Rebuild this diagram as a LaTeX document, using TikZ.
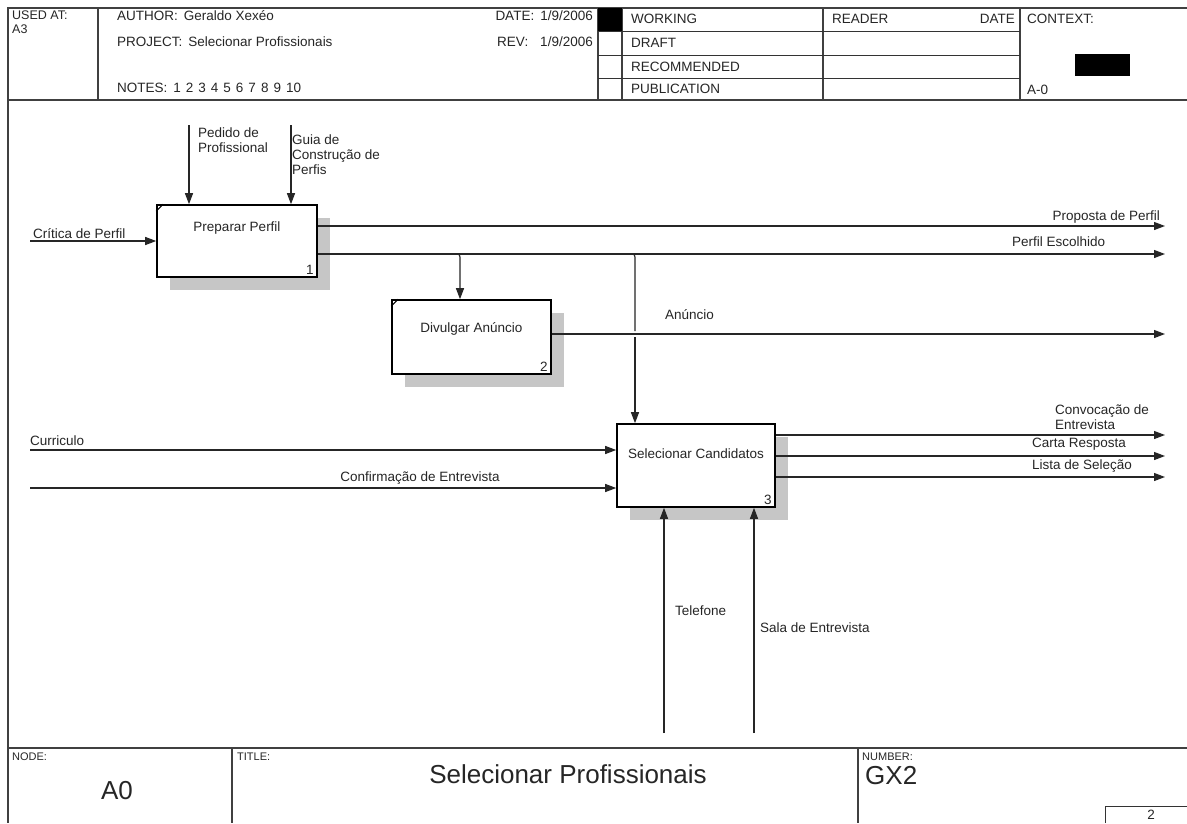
\documentclass[tikz,border=0pt]{standalone}
\usepackage{fontspec}
\setmainfont{Liberation Sans}
\usetikzlibrary{arrows.meta,shadows}
\begin{document}
\begin{tikzpicture}[x=1pt,y=-1pt,
  frame/.style={draw=black!75,line width=1.3pt},
  thin/.style={draw=black!80,line width=1pt},
  txt/.style={font=\fontsize{13.5}{15}\selectfont,inner sep=0pt,text=black!85},
  tiny/.style={font=\fontsize{11}{12}\selectfont,inner sep=0pt,text=black!85},
  big/.style={font=\fontsize{26}{28}\selectfont,inner sep=0pt,text=black!85},
  actbox/.style={draw=black,line width=1.6pt,fill=white,inner sep=0pt,
    drop shadow={shadow xshift=13pt,shadow yshift=-13pt,fill=gray!45,opacity=1}},
  flow/.style={draw=black!85,line width=1.2pt,-{Triangle[length=11pt,width=8pt]}},
  plain/.style={draw=black!85,line width=1.2pt},
  lbl/.style={txt,align=left}]
\useasboundingbox (0,0) rectangle (1187,823);
\fill[white] (0,0) rectangle (1187,823);

% ---------- outer frame and header ----------
\draw[frame] (1187,8) -- (8,8) -- (8,823);
\draw[frame] (8,100) -- (1187,100);
\draw[frame] (98,8) -- (98,100);
\draw[frame] (598,8) -- (598,100);
\draw[frame] (622,8) -- (622,100);
\draw[frame] (823,8) -- (823,100);
\draw[frame] (1020,8) -- (1020,100);
\foreach \yy in {31,55,78} \draw[thin] (598,\yy) -- (1020,\yy);
\fill[black] (598,8) rectangle (622,31);
\fill[black] (1075,54) rectangle (1130,76);

\node[txt,anchor=north west,font=\fontsize{12.5}{12.5}\selectfont] (usedat) at (12,11) {USED AT:};
\node[txt,anchor=north west,font=\fontsize{12.5}{12.5}\selectfont] (usedcode) at (12,24.5) {A3};
\node[txt,anchor=west] (author) at (117,16) {AUTHOR:\hspace{6pt}Geraldo Xexéo};
\node[txt,anchor=west] (project) at (117,42) {PROJECT:\hspace{6pt}Selecionar Profissionais};
\node[txt,anchor=west] (notes) at (117,88) {NOTES:\hspace{6pt}1\hspace{5pt}2\hspace{5pt}3\hspace{5pt}4\hspace{5pt}5\hspace{5pt}6\hspace{5pt}7\hspace{5pt}8\hspace{5pt}9\hspace{5pt}10};
\node[txt,anchor=east] (date) at (593,16) {DATE:\hspace{6pt}1/9/2006};
\node[txt,anchor=east] (rev) at (593,42) {REV:\hspace{12pt}1/9/2006};
\node[txt,anchor=west] (working) at (631,19) {WORKING};
\node[txt,anchor=west] (draft) at (631,43) {DRAFT};
\node[txt,anchor=west] (recommended) at (631,67) {RECOMMENDED};
\node[txt,anchor=west] (publication) at (631,89) {PUBLICATION};
\node[txt,anchor=west] (reader) at (832,19) {READER};
\node[txt,anchor=east] (readerdate) at (1015,19) {DATE};
\node[txt,anchor=west] (context) at (1027,19) {CONTEXT:};
\node[txt,anchor=west] (contextnode) at (1027,90) {A-0};

% ---------- footer ----------
\draw[frame] (8,748) -- (1187,748);
\draw[frame] (232,748) -- (232,823);
\draw[frame] (858,748) -- (858,823);
\draw[thin] (1105,823) -- (1105,806) -- (1187,806);
\node[tiny,anchor=west] (nodelbl) at (12,757) {NODE:};
\node[big] (nodeval) at (117,791) {A0};
\node[tiny,anchor=west] (titlelbl) at (237,757) {TITLE:};
\node[big] (titleval) at (568,774) {Selecionar Profissionais};
\node[tiny,anchor=west] (numberlbl) at (862,757) {NUMBER:};
\node[big,anchor=west] (numberval) at (865,776) {GX2};
\node[txt] (pagenum) at (1151,815) {2};

% ---------- activity boxes ----------
\node[actbox,minimum width=160pt,minimum height=72pt] (p1) at (237,241) {};
\node[actbox,minimum width=159pt,minimum height=74pt] (p2) at (471.5,337) {};
\node[actbox,minimum width=158pt,minimum height=83pt] (p3) at (696,465.5) {};

\node[txt] (p1name) at ([yshift=-24pt]p1.north) {Preparar Perfil};
\node[txt] (p2name) at ([yshift=-30pt]p2.north) {Divulgar Anúncio};
\node[txt] (p3name) at ([yshift=-30pt]p3.north) {Selecionar Candidatos};
\node[txt,anchor=south east] (p1num) at ([xshift=-4pt,yshift=3pt]p1.south east) {1};
\node[txt,anchor=south east] (p2num) at ([xshift=-4pt,yshift=3pt]p2.south east) {2};
\node[txt,anchor=south east] (p3num) at ([xshift=-4pt,yshift=3pt]p3.south east) {3};
\draw[line width=1pt] ([yshift=-7pt]p1.north west) -- ([xshift=7pt]p1.north west);
\draw[line width=1pt] ([yshift=-7pt]p2.north west) -- ([xshift=7pt]p2.north west);

% ---------- free ends of the arrows ----------
\coordinate (critica) at (30,241);
\coordinate (pedido) at (189,125);
\coordinate (guia) at (291,125);
\coordinate (proposta) at (1165,226);
\coordinate (escolhido) at (1165,254);
\coordinate (anuncio) at (1165,334);
\coordinate (curriculo) at (30,450);
\coordinate (confirmacao) at (30,488);
\coordinate (convocacao) at (1165,435);
\coordinate (carta) at (1165,456);
\coordinate (lista) at (1165,477);
\coordinate (telefone) at (664,733);
\coordinate (sala) at (754,733);
\coordinate (branchA) at (460,254);
\coordinate (branchB) at (635,254);

% ---------- Preparar Perfil ----------
\draw[flow] (critica) -- (critica -| p1.west);
\draw[flow] (pedido) -- (pedido |- p1.north);
\draw[flow] (guia) -- (guia |- p1.north);
\draw[flow] (proposta -| p1.east) -- (proposta);
\draw[flow] (escolhido -| p1.east) -- (escolhido);
\node[lbl,anchor=west] (lcritica) at (33,234) {Crítica de Perfil};
\node[lbl,anchor=north west] (lpedido) at (198,128) {Pedido de\\Profissional};
\node[lbl,anchor=north west] (lguia) at (292,135) {Guia de\\Construção de\\Perfis};
\node[lbl,anchor=east] (lproposta) at (1160,217) {Proposta de Perfil};
\node[lbl,anchor=west] (lescolhido) at (1012,242) {Perfil Escolhido};

% branch of Perfil Escolhido into Divulgar Anúncio
\draw[flow] ([xshift=-5pt]branchA) .. controls (branchA) .. ([yshift=-7pt]branchA) -- (branchA |- p2.north);
% branch of Perfil Escolhido into Selecionar Candidatos, bridging Anúncio
\draw[plain] ([xshift=-5pt]branchB) .. controls (branchB) .. ([yshift=-7pt]branchB) -- ([yshift=3pt]branchB |- anuncio);
\draw[flow] ([yshift=-3pt]branchB |- anuncio) -- (branchB |- p3.north);

% ---------- Divulgar Anúncio ----------
\draw[flow] (anuncio -| p2.east) -- (anuncio);
\node[lbl,anchor=west] (lanuncio) at (665,315) {Anúncio};

% ---------- Selecionar Candidatos ----------
\draw[flow] (curriculo) -- (curriculo -| p3.west);
\draw[flow] (confirmacao) -- (confirmacao -| p3.west);
\draw[flow] (convocacao -| p3.east) -- (convocacao);
\draw[flow] (carta -| p3.east) -- (carta);
\draw[flow] (lista -| p3.east) -- (lista);
\draw[flow] (telefone) -- (telefone |- p3.south);
\draw[flow] (sala) -- (sala |- p3.south);
\node[lbl,anchor=west] (lcurriculo) at (30,441) {Curriculo};
\node[lbl] (lconfirmacao) at (420,478) {Confirmação de Entrevista};
\node[lbl,anchor=south west] (lconvocacao) at (1055,430) {Convocação de\\Entrevista};
\node[lbl,anchor=west] (lcarta) at (1032,444) {Carta Resposta};
\node[lbl,anchor=west] (llista) at (1032,466) {Lista de Seleção};
\node[lbl,anchor=west] (ltelefone) at (675,611) {Telefone};
\node[lbl,anchor=west] (lsala) at (760,628) {Sala de Entrevista};
\end{tikzpicture}
\end{document}
